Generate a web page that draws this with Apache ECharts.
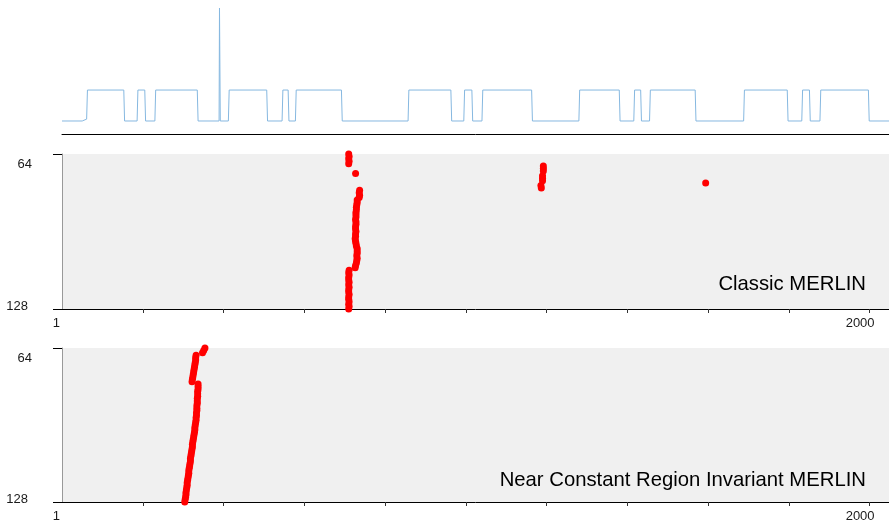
<!DOCTYPE html>
<html>
<head>
<meta charset="utf-8">
<title>MERLIN</title>
<script src="https://cdn.jsdelivr.net/npm/echarts@6.0.0/dist/echarts.min.js"></script>
<style>
    html, body { margin: 0; padding: 0; background: #fff; }
    #chart { width: 889px; height: 530px; }
</style>
</head>
<body>
<div id="chart"></div>
<script>
// time series (top strip), read at the step edges
var seriesX = [0, 50, 52, 61, 63, 153, 155, 186, 188, 205, 207, 230, 232, 335, 337, 389, 390, 391, 392, 412, 414,
    507, 509, 545, 547, 560, 562, 578, 580, 692, 694, 857, 859, 963, 965, 995, 997, 1015, 1017, 1040, 1042,
    1163, 1165, 1280, 1282, 1380, 1382, 1416, 1418, 1433, 1435, 1455, 1457, 1568, 1570, 1688, 1690,
    1796, 1798, 1832, 1834, 1851, 1853, 1877, 1879, 1997, 1999, 2048];
var seriesY = [0, 0, 0.06, 0.06, 1, 1, 0, 0, 1, 1, 0, 0, 1, 1, 0, 0, 3.65, 3.65, 0, 0, 1,
    1, 0, 0, 1, 1, 0, 0, 1, 1, 0, 0, 1, 1, 0, 0, 1, 1, 0, 0, 1,
    1, 0, 0, 1, 1, 0, 0, 1, 1, 0, 0, 1, 1, 0, 0, 1,
    1, 0, 0, 1, 1, 0, 0, 1, 1, 0, 0];

// subsequence lengths 64..128
var lengths = [64, 65, 66, 67, 68, 69, 70, 71, 72, 73, 74, 75, 76, 77, 78, 79, 80, 81, 82, 83, 84, 85, 86, 87, 88, 89,
    90, 91, 92, 93, 94, 95, 96, 97, 98, 99, 100, 101, 102, 103, 104, 105, 106, 107, 108, 109, 110, 111, 112,
    113, 114, 115, 116, 117, 118, 119, 120, 121, 122, 123, 124, 125, 126, 127, 128];

// discord location per length, classic MERLIN
var classicIdx = [710, 711, 710, 711, 710, 1192, 1192, 1192, 727, 1190, 1190, 1190, 1594, 1186, 1187,
    737, 736, 737, 736, 731, 731, 730, 729, 729, 728, 728, 728, 727, 728, 728, 727, 727, 728, 727, 727, 726,
    727, 728, 729, 731, 731, 731, 730, 731, 730, 729, 727, 726,
    711, 710, 711, 710, 710, 711, 710, 711, 710, 710, 711, 710, 710, 711, 710, 711, 710];

// discord location per length, near constant region invariant MERLIN
var nearIdx = [354, 351, 348,
    332, 331, 331, 330, 329, 328, 327, 326, 325, 324, 323, 322,
    337, 337, 337, 336, 336, 336, 335, 335, 335, 334, 334, 334, 333, 333, 332, 332, 331, 330, 329, 329,
    328, 327, 326, 325, 324, 323, 323, 322, 321, 320, 319, 318, 318, 317, 316, 315, 314, 314, 313, 312,
    311, 310, 310, 309, 308, 307, 307, 306, 305, 304];

var xTicks = [200, 400, 600, 800, 1000, 1200, 1400, 1600, 1800, 2000];
var xLabels = [1, 2000];
var yTicks = [64, 128];

var FONT = 'Liberation Sans, Arial, Helvetica, sans-serif';

function zip(a, b) {
    return a.map(function (v, i) { return [v, b[i]]; });
}

function bottomAxis(idx) {
    return {
        type: 'value', gridIndex: idx, min: 0, max: 2048,
        axisLine: { onZero: false, lineStyle: { color: '#000', width: 1 } },
        axisTick: { customValues: xTicks, length: 4, lineStyle: { color: '#333' } },
        axisLabel: {
            customValues: xLabels, margin: 8,
            formatter: function (v) { return v === 1 ? '{a|1}' : '{b|2000}'; },
            rich: {
                a: { fontSize: 13, color: '#1a1a1a', fontFamily: FONT, padding: [0, 12, 0, 0] },
                b: { fontSize: 13, color: '#1a1a1a', fontFamily: FONT, padding: [0, 19, 0, 0] }
            }
        },
        splitLine: { show: false }
    };
}

function leftAxis(idx) {
    return {
        type: 'value', gridIndex: idx, inverse: true, min: yTicks[0], max: yTicks[1], interval: 64,
        axisLine: { show: true, lineStyle: { color: '#999', width: 1 } },
        axisTick: { show: true, length: 9, lineStyle: { color: '#000' } },
        axisLabel: {
            margin: 30,
            formatter: function (v) { return v === 64 ? '{a|64}' : '{b|128}'; },
            rich: {
                a: { fontSize: 13, color: '#1a1a1a', fontFamily: FONT, padding: [20, 0, 0, 0] },
                b: { fontSize: 13, color: '#1a1a1a', fontFamily: FONT, padding: [0, 4, 6, 0] }
            }
        },
        splitLine: { show: false }
    };
}

var myChart = echarts.init(document.getElementById('chart'));

var option = {
    animation: false,
    backgroundColor: '#fff',
    title: [
        {
            text: 'Classic MERLIN', right: 23, top: 274, padding: 0,
            textStyle: { fontSize: 20.3, fontWeight: 'normal', color: '#000', fontFamily: FONT }
        },
        {
            text: 'Near Constant Region Invariant MERLIN', right: 23, top: 470, padding: 0,
            textStyle: { fontSize: 20.3, fontWeight: 'normal', color: '#000', fontFamily: FONT }
        }
    ],
    grid: [
        { left: 62, right: 0, top: 8, height: 126 },
        { left: 62, right: 0, top: 154, height: 155, show: true, backgroundColor: '#f0f0f0', borderWidth: 0 },
        { left: 62, right: 0, top: 348, height: 154, show: true, backgroundColor: '#f0f0f0', borderWidth: 0 }
    ],
    xAxis: [
        {
            type: 'value', gridIndex: 0, min: 0, max: 2048,
            axisLine: { onZero: false, lineStyle: { color: '#000', width: 1 } },
            axisTick: { show: false }, axisLabel: { show: false }, splitLine: { show: false }
        },
        bottomAxis(1),
        bottomAxis(2)
    ],
    yAxis: [
        { type: 'value', gridIndex: 0, min: -0.42, max: 3.65, show: false, splitLine: { show: false } },
        leftAxis(1),
        leftAxis(2)
    ],
    series: [
        {
            type: 'line', xAxisIndex: 0, yAxisIndex: 0, data: zip(seriesX, seriesY),
            showSymbol: false, lineStyle: { color: '#86b8e0', width: 1 }
        },
        {
            type: 'scatter', xAxisIndex: 1, yAxisIndex: 1, data: zip(classicIdx, lengths),
            symbolSize: 7, clip: false, itemStyle: { color: '#ff0000', opacity: 1 }
        },
        {
            type: 'scatter', xAxisIndex: 2, yAxisIndex: 2, data: zip(nearIdx, lengths),
            symbolSize: 7, clip: false, itemStyle: { color: '#ff0000', opacity: 1 }
        }
    ]
};

myChart.setOption(option);
</script>
</body>
</html>
